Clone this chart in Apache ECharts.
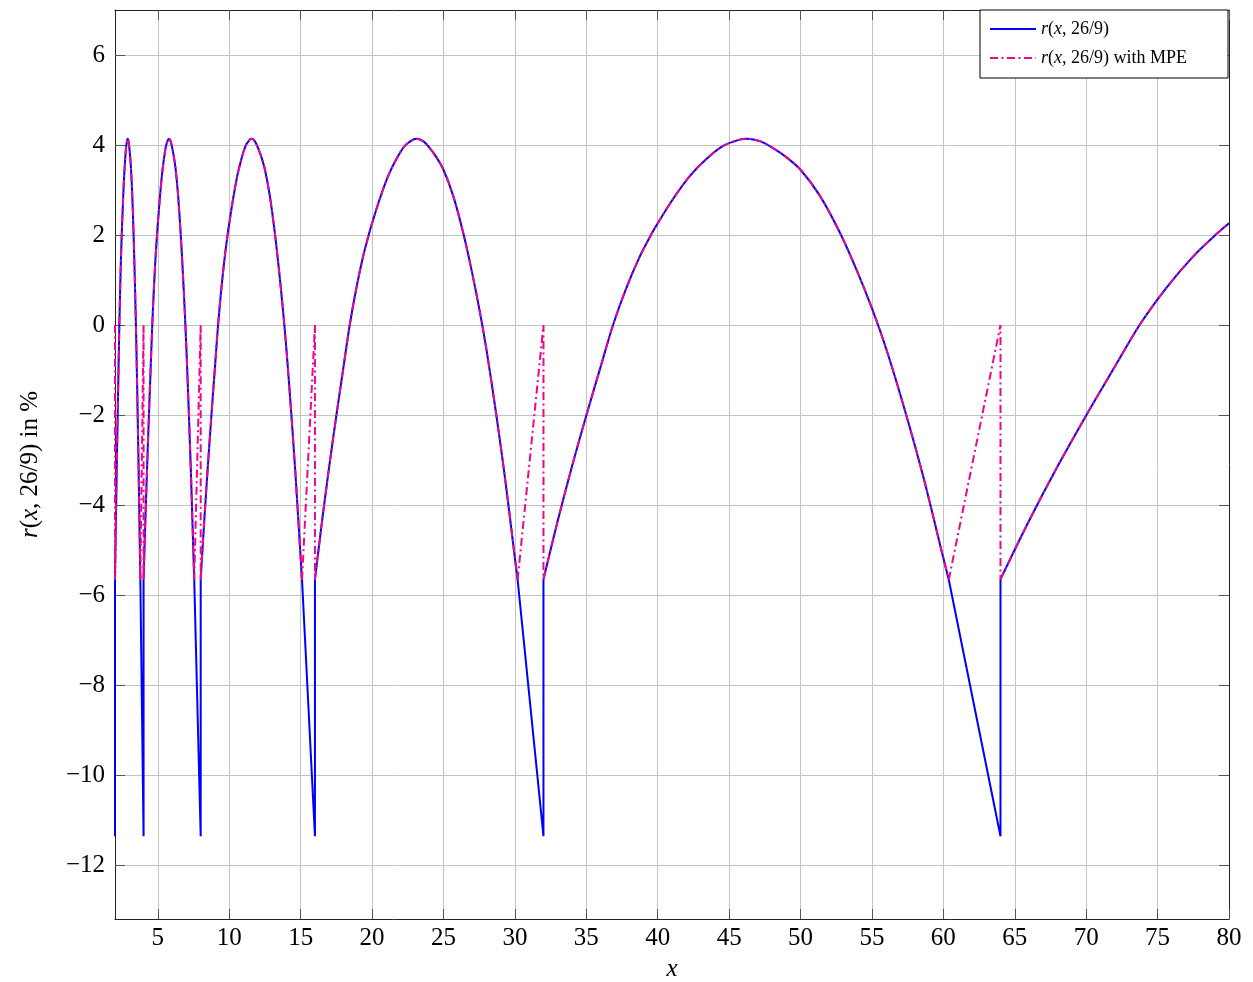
<!DOCTYPE html>
<html>
<head>
<meta charset="utf-8">
<script src="https://cdn.jsdelivr.net/npm/echarts@6/dist/echarts.min.js"></script>
<style>
html,body{margin:0;padding:0;background:#fff;}
#chart{width:1253px;height:982px;}
</style>
</head>
<body>
<div id="chart"></div>
<script>
// ---- data ----
const xTicks = [5, 10, 15, 20, 25, 30, 35, 40, 45, 50, 55, 60, 65, 70, 75, 80];
const yTicks = [-12, -10, -8, -6, -4, -2, 0, 2, 4, 6];

// positions of the jumps (powers of two) and the values there
const powersX   = [2, 4, 8, 16, 32, 64];
const blueJumpY = [-11.36, -11.36, -11.36, -11.36, -11.36, -11.36];
const mpeJumpY  = [0, 0, 0, 0, 0, 0];

// the arc between two jumps (same values in every octave)
const arcY = [-5.65, -4.35, -3.14, -2.01, -0.93, 0.00, 0.82, 1.52, 2.02, 2.26,
              2.80, 3.31, 3.69, 3.98, 4.12, 4.14, 4.08, 3.93, 3.73, 3.45,
              2.87, 2.05, 1.22, 0.37, -0.56, -1.90, -3.38, -5.18, -5.66];

const arc1X = [2, 2.0625, 2.125, 2.1875, 2.25, 2.3044, 2.3625, 2.4213, 2.4725, 2.5,
               2.5669, 2.64, 2.7131, 2.7863, 2.8594, 2.8906, 2.95, 3.005, 3.0625, 3.125,
               3.21, 3.2975, 3.3706, 3.4375, 3.5019, 3.5819, 3.6625, 3.75, 3.7738];
const arc2X = [4, 4.125, 4.25, 4.375, 4.5, 4.6088, 4.725, 4.8425, 4.945, 5,
               5.1338, 5.28, 5.4263, 5.5725, 5.7188, 5.7813, 5.9, 6.01, 6.125, 6.25,
               6.42, 6.595, 6.7413, 6.875, 7.0038, 7.1638, 7.325, 7.5, 7.5475];
const arc3X = [8, 8.25, 8.5, 8.75, 9, 9.2175, 9.45, 9.685, 9.89, 10,
               10.2675, 10.56, 10.8525, 11.145, 11.4375, 11.5625, 11.8, 12.02, 12.25, 12.5,
               12.84, 13.19, 13.4825, 13.75, 14.0075, 14.3275, 14.65, 15, 15.095];
const arc4X = [16, 16.5, 17, 17.5, 18, 18.435, 18.9, 19.37, 19.78, 20,
               20.535, 21.12, 21.705, 22.29, 22.875, 23.125, 23.6, 24.04, 24.5, 25,
               25.68, 26.38, 26.965, 27.5, 28.015, 28.655, 29.3, 30, 30.19];
const arc5X = [32, 33, 34, 35, 36, 36.87, 37.8, 38.74, 39.56, 40,
               41.07, 42.24, 43.41, 44.58, 45.75, 46.25, 47.2, 48.08, 49, 50,
               51.36, 52.76, 53.93, 55, 56.03, 57.31, 58.6, 60, 60.38];
const arc6X = [64, 66, 68, 70, 72, 73.74, 75.6, 77.48, 79.12, 80];

const seriesNames = ['r(x, 26/9)', 'r(x, 26/9) with MPE'];

// ---- build series data ----
const arcsX = [arc1X, arc2X, arc3X, arc4X, arc5X, arc6X];
function buildArcs() {
  const out = [];
  arcsX.forEach(xs => {
    xs.forEach((x, j) => out.push([x, arcY[j]]));
    out.push(null);
  });
  return out;
}
function buildJumps(jumpY) {
  const out = [];
  powersX.forEach((px, i) => {
    if (i > 0) {
      const prev = arcsX[i - 1];
      out.push([prev[prev.length - 1], arcY[arcY.length - 1]]);
    }
    out.push([px, jumpY[i]]);
    out.push([px, arcY[0]]);
    out.push(null);
  });
  return out;
}
const arcData = buildArcs();
const blueJumps = buildJumps(blueJumpY);
const mpeJumps = buildJumps(mpeJumpY);

const FONT = 'Liberation Serif';
const fmtNum = v => (v < 0 ? '\u2212' + Math.abs(v) : String(v));
const frameColor = '#222';
const tickColor = '#555';
const gridColor = '#c4c4c4';
const BLUE = '#0000ff';
const PINK = '#f0068a';
const DASHDOT = [8, 3.5, 2, 3.5];

function lineSeries(name, data, color, dash, smooth, z) {
  return {
    name: name, type: 'line', xAxisIndex: 0, yAxisIndex: 0,
    data: data, showSymbol: false, symbol: 'none', clip: true,
    smooth: smooth, connectNulls: false,
    lineStyle: {color: color, width: 2, type: dash}, itemStyle: {color: color}, z: z
  };
}

const chart = echarts.init(document.getElementById('chart'), null, {renderer: 'canvas'});
chart.setOption({
  animation: false,
  backgroundColor: '#fff',
  grid: {left: 115, right: 24, top: 10, bottom: 63, containLabel: false, outerBoundsMode: 'none'},
  legend: {
    data: seriesNames,
    orient: 'vertical',
    right: 25,
    top: 10,
    backgroundColor: '#fff',
    borderColor: '#000',
    borderWidth: 1,
    borderRadius: 0,
    padding: [9, 15, 10, 9],
    itemGap: 9,
    itemWidth: 46,
    itemHeight: 14,
    itemStyle: {opacity: 0},
    formatter: n => n.replace(/^r\(x,/, '{i|r}({i|x},'),
    textStyle: {
      fontFamily: FONT, fontSize: 18, color: '#000', lineHeight: 20, width: 172,
      rich: {i: {fontFamily: FONT, fontSize: 18, fontStyle: 'italic', color: '#000'}}
    }
  },
  xAxis: [{
    type: 'value', min: 2, max: 80, position: 'bottom',
    name: 'x', nameLocation: 'middle', nameGap: 38,
    nameTextStyle: {fontFamily: FONT, fontSize: 25, fontStyle: 'italic', color: '#000'},
    axisLine: {show: true, onZero: false, lineStyle: {color: frameColor, width: 1}},
    axisTick: {show: true, inside: true, length: 10, customValues: xTicks, lineStyle: {color: tickColor}},
    axisLabel: {show: true, customValues: xTicks, margin: 7, fontFamily: FONT, fontSize: 25, color: '#000', formatter: fmtNum},
    splitLine: {show: true, lineStyle: {color: gridColor, width: 1}}
  }, {
    type: 'value', min: 2, max: 80, position: 'top',
    axisLine: {show: true, onZero: false, lineStyle: {color: frameColor, width: 1}},
    axisTick: {show: true, inside: true, length: 10, customValues: xTicks, lineStyle: {color: tickColor}},
    axisLabel: {show: false},
    splitLine: {show: false}
  }],
  yAxis: [{
    type: 'value', min: -13.2, max: 7, position: 'left',
    name: '{i|r}({i|x}, 26/9) in %', nameLocation: 'middle', nameGap: 72, nameRotate: 90,
    nameTextStyle: {
      fontFamily: FONT, fontSize: 25, color: '#000',
      rich: {i: {fontFamily: FONT, fontSize: 25, fontStyle: 'italic', color: '#000'}}
    },
    axisLine: {show: true, onZero: false, lineStyle: {color: frameColor, width: 1}},
    axisTick: {show: true, inside: true, length: 10, customValues: yTicks, lineStyle: {color: tickColor}},
    axisLabel: {show: true, customValues: yTicks, margin: 10, fontFamily: FONT, fontSize: 25, color: '#000', formatter: fmtNum},
    splitLine: {show: true, lineStyle: {color: gridColor, width: 1}}
  }, {
    type: 'value', min: -13.2, max: 7, position: 'right',
    axisLine: {show: true, onZero: false, lineStyle: {color: frameColor, width: 1}},
    axisTick: {show: true, inside: true, length: 10, customValues: yTicks, lineStyle: {color: tickColor}},
    axisLabel: {show: false},
    splitLine: {show: false}
  }],
  series: [
    lineSeries(seriesNames[0], arcData, BLUE, 'solid', 0.3, 2),
    lineSeries(seriesNames[0], blueJumps, BLUE, 'solid', false, 2),
    lineSeries(seriesNames[1], arcData, PINK, DASHDOT, 0.3, 3),
    lineSeries(seriesNames[1], mpeJumps, PINK, DASHDOT, false, 3)
  ]
});
</script>
</body>
</html>
